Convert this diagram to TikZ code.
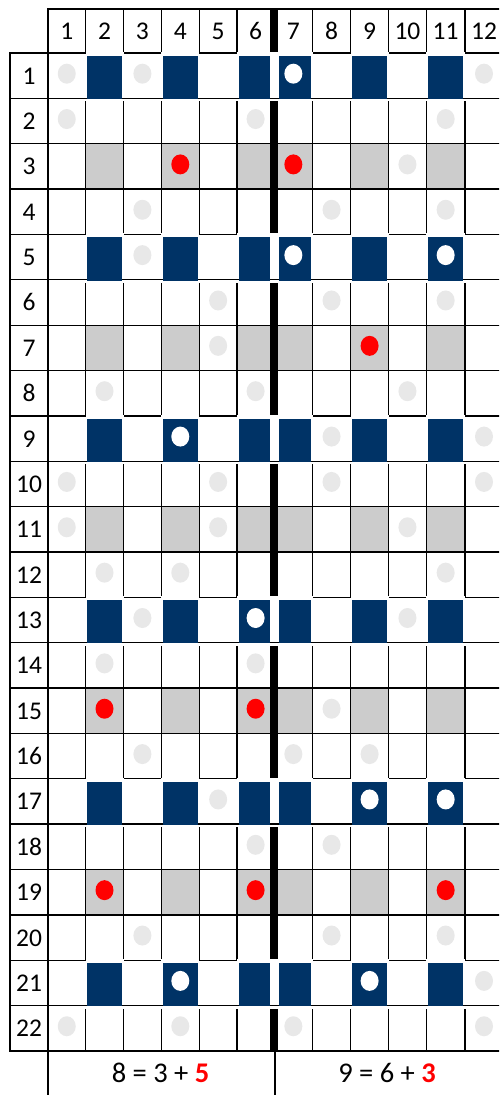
\documentclass[tikz,border=0pt]{standalone}
\usepackage{fontspec}
\setmainfont{Carlito}
\definecolor{cellblue}{HTML}{003366}
\definecolor{cellgray}{HTML}{CCCCCC}
\definecolor{dotgray}{HTML}{E8E8E8}
\definecolor{dotred}{HTML}{FF0000}
\def\XS{{48,85.5,123.5,161.3,199.3,237,274.2,312.5,350.6,388.6,426.3,465,503}}
\newcommand\cellgeom[2]{%
  \pgfmathsetmacro\xa{\XS[#2-1]}%
  \pgfmathsetmacro\xb{\XS[#2]}%
  \pgfmathsetmacro\ya{53+(#1-1)*45.36}%
  \pgfmathsetmacro\yb{53+#1*45.36}%
  \pgfmathsetmacro\xm{(\xa+\xb)/2}%
  \pgfmathsetmacro\ym{(\ya+\yb)/2}}
\newcommand\putdot[3]{\cellgeom{#1}{#2}\fill[#3] (\xm,\ym-2) ellipse [x radius=9pt, y radius=10pt];}
\begin{document}
\begin{tikzpicture}[x=1pt,y=-1pt,
  gridline/.style={line width=1.3pt},
  lbl/.style={inner sep=0pt, anchor=base, font=\fontsize{25.5}{25.5}\selectfont},
  sumlbl/.style={inner sep=0pt, anchor=base, font=\fontsize{28.5}{28.5}\selectfont}]
\useasboundingbox (0,0) rectangle (499,1095);
\fill[white] (0,0) rectangle (499,1095);
\begin{scope}
\clip (0,0) rectangle (499,1095);
% gray cells
\foreach \ri in {3,7,11,15,19} \foreach \ci in {2,4,6,7,9,11} {
  \cellgeom{\ri}{\ci}
  \fill[cellgray] (\xa,\ya) rectangle (\xb,\yb);
}
% vertical lines
\draw[gridline] (10,53) -- (10,1051);
\draw[gridline] (48,9) -- (48,1095);
\foreach \ci in {1,2,3,4,5,7,8,9,10,11} {
  \pgfmathsetmacro\xa{\XS[\ci]}
  \draw[gridline] (\xa,9) -- (\xa,1051);
}
\fill[black] (270.2,9) rectangle (278.2,1051);
\draw[gridline] (275,1051) -- (275,1095);
% blue rows: remove vertical lines
\foreach \ri in {1,5,9,13,17,21} {
  \cellgeom{\ri}{1}
  \fill[white] (49,\ya+0.7) rectangle (503,\yb+3);
}
% horizontal lines
\draw[gridline] (47.35,9) -- (503,9);
\foreach \ri in {0,...,22} {
  \pgfmathsetmacro\ya{53+\ri*45.36}
  \draw[gridline] (9.35,\ya) -- (503,\ya);
}
% blue cells
\foreach \ri in {1,5,9,13,17,21} \foreach \ci in {2,4,6,7,9,11} {
  \cellgeom{\ri}{\ci}
  \pgfmathsetmacro\ia{\ci==7 ? 4.8 : 1.6}
  \pgfmathsetmacro\ib{\ci==6 ? 4 : 1.6}
  \fill[white] (\xa,\ya-1) rectangle (\xb,\ya+1);
  \fill[cellblue] (\xa+\ia,\ya+3) rectangle (\xb-\ib,\yb+0.7);
}
% gray dots
\foreach \ri/\ci in {1/1,1/3,1/12,2/1,2/6,2/11,3/10,4/3,4/8,4/11,5/3,6/5,6/8,6/11,7/5,
  8/2,8/6,8/10,9/8,9/12,10/1,10/5,10/8,10/12,11/1,11/5,11/10,12/2,12/4,12/11,13/3,13/10,
  14/2,14/6,15/8,16/3,16/7,16/9,17/5,18/6,18/8,20/3,20/8,20/11,21/12,22/1,22/4,22/7,22/12}
  {\putdot{\ri}{\ci}{dotgray}}
% red dots
\foreach \ri/\ci in {3/4,3/7,7/9,15/2,15/6,19/2,19/6,19/11}
  {\putdot{\ri}{\ci}{dotred}}
% white dots
\foreach \ri/\ci in {1/7,5/7,5/11,9/4,13/6,17/9,17/11,21/4,21/9}
  {\putdot{\ri}{\ci}{white}}
\end{scope}
% header labels
\foreach \ci in {1,...,12} {
  \cellgeom{1}{\ci}
  \node[lbl] (h\ci) at (\xm,39.5) {\ci};
}
% row labels
\foreach \ri in {1,...,22} {
  \cellgeom{\ri}{1}
  \node[lbl] (r\ri) at (29,\ym+8.5) {\ri};
}
% sums
\node[sumlbl] (sumL) at (160.5,1082.5) {8 = 3 + \textcolor{dotred}{\bfseries 5}};
\node[sumlbl] (sumR) at (387,1082.5) {9 = 6 + \textcolor{dotred}{\bfseries 3}};
\end{tikzpicture}
\end{document}
